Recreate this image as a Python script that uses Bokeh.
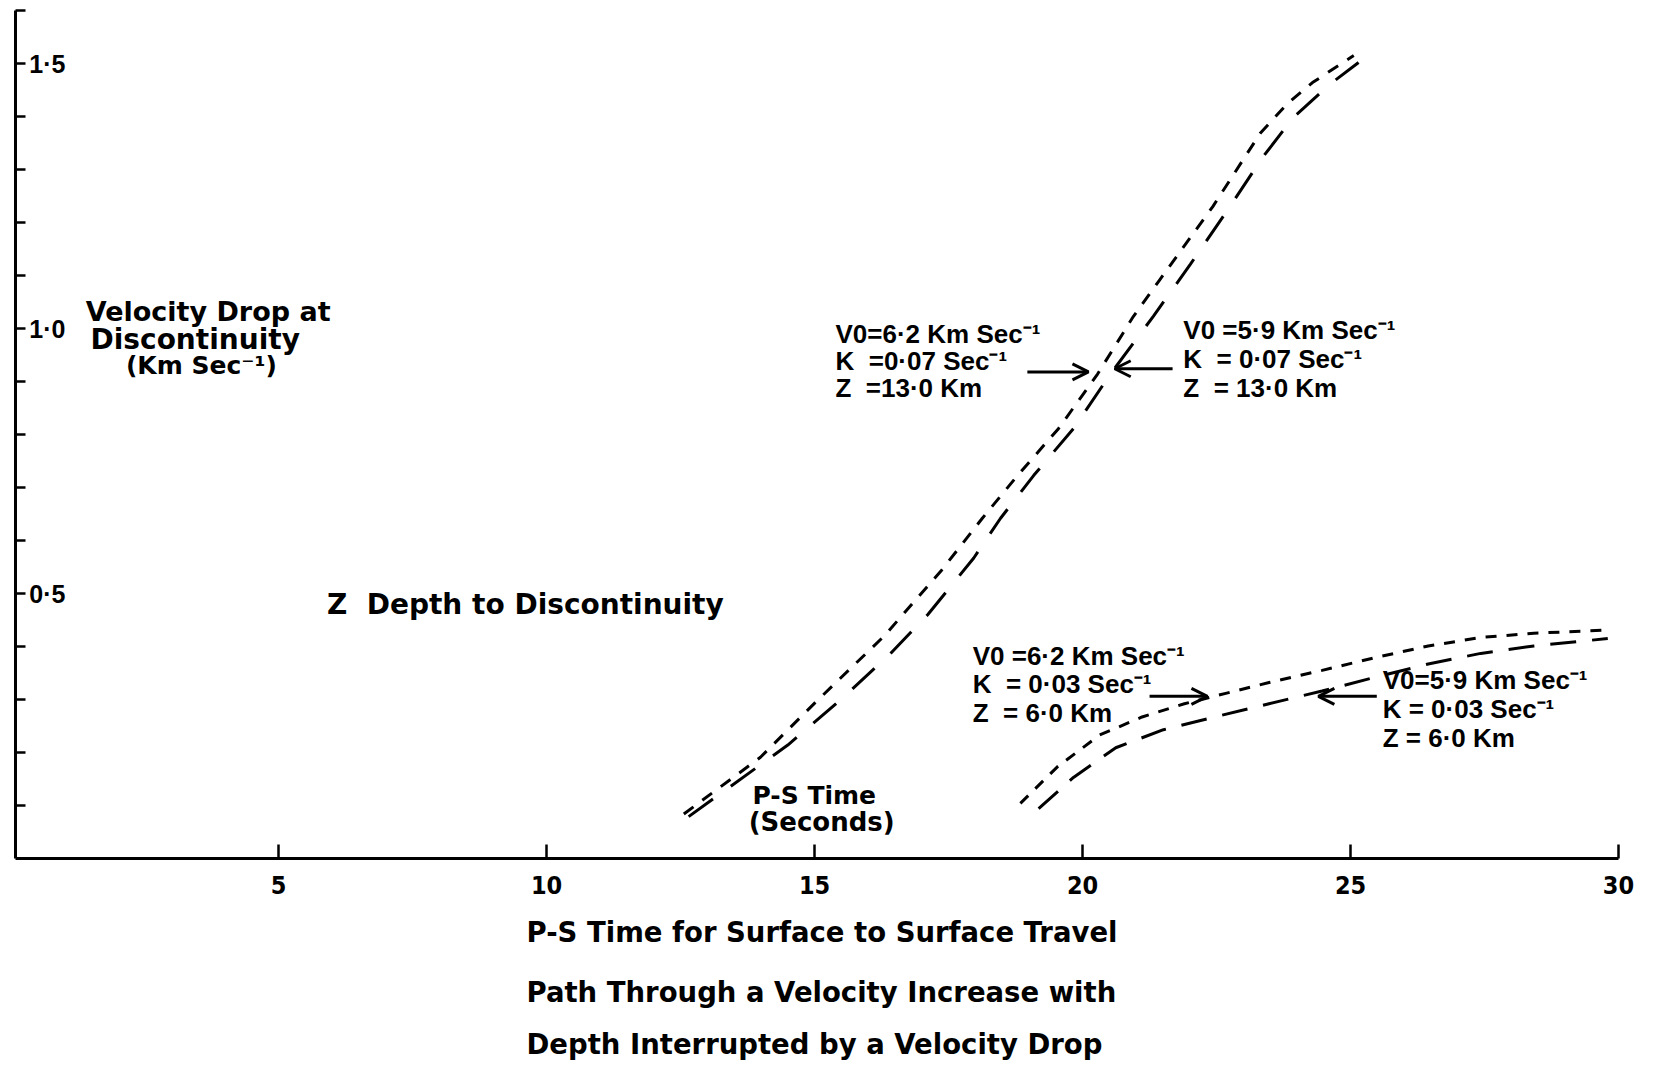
from bokeh.plotting import figure
from bokeh.models import Range1d, FixedTicker, Label, Arrow, OpenHead, Title
from bokeh.embed import file_html
from bokeh.resources import INLINE

NB = "\u00a0"

# ---------------- data ----------------
x_ticks = [5, 10, 15, 20, 25, 30]
x_tick_labels = ["5", "10", "15", "20", "25", "30"]
y_ticks = [0.5, 1.0, 1.5]
y_tick_labels = ["0·5", "1·0", "1·5"]
y_minor_ticks = [0.1, 0.2, 0.3, 0.4, 0.6, 0.7, 0.8, 0.9, 1.1, 1.2, 1.3, 1.4, 1.6]

# K = 0.07, Z = 13 km, V0 = 6.2 km/s
a_x = [12.56, 13.99, 15.02, 16.30, 17.37, 18.13, 18.79, 19.55, 20.28, 20.95, 21.42, 22.43, 23.32, 23.82, 24.29, 25.06]
a_y = [0.084, 0.191, 0.295, 0.420, 0.544, 0.642, 0.723, 0.811, 0.914, 1.023, 1.089, 1.230, 1.369, 1.424, 1.464, 1.515]
# K = 0.07, Z = 13 km, V0 = 5.9 km/s
b_x = [12.65, 14.50, 15.49, 16.38, 17.11, 17.97, 18.47, 19.09, 19.83, 20.52, 21.32, 22.01, 22.71, 23.36, 23.94, 24.63, 25.15]
b_y = [0.079, 0.214, 0.300, 0.383, 0.460, 0.567, 0.642, 0.723, 0.811, 0.914, 1.023, 1.121, 1.224, 1.323, 1.399, 1.462, 1.502]
# K = 0.03, Z = 6 km, V0 = 6.2 km/s
c_x = [18.84, 19.53, 20.32, 21.11, 21.90, 22.69, 23.48, 24.47, 25.46, 26.45, 27.43, 28.42, 29.80]
c_y = [0.104, 0.173, 0.233, 0.267, 0.292, 0.312, 0.332, 0.355, 0.379, 0.401, 0.417, 0.425, 0.431]
# K = 0.03, Z = 6 km, V0 = 5.9 km/s
d_x = [19.18, 19.83, 20.62, 21.51, 22.50, 23.48, 24.47, 25.46, 26.45, 27.43, 28.42, 29.80]
d_y = [0.094, 0.153, 0.209, 0.243, 0.268, 0.292, 0.316, 0.342, 0.367, 0.387, 0.401, 0.415]

y_title_lines = ["Velocity Drop at", "Discontinuity", "(Km Sec⁻¹)"]
x_title_lines = ["P-S Time for Surface to Surface Travel",
                 "Path Through a Velocity Increase with",
                 "Depth Interrupted by a Velocity Drop"]
ann_upper_left = ["V0=6·2 Km Sec⁻¹", "K" + NB * 2 + "=0·07 Sec⁻¹", "Z" + NB * 2 + "=13·0 Km"]
ann_upper_right = ["V0 =5·9 Km Sec⁻¹", "K" + NB * 2 + "= 0·07 Sec⁻¹", "Z" + NB * 2 + "= 13·0 Km"]
ann_lower_left = ["V0 =6·2 Km Sec⁻¹", "K" + NB * 2 + "= 0·03 Sec⁻¹", "Z" + NB * 2 + "= 6·0 Km"]
ann_lower_right = ["V0=5·9 Km Sec⁻¹", "K = 0·03 Sec⁻¹", "Z = 6·0 Km"]

# ---------------- figure ----------------
p = figure(width=1655, height=1069,
           x_range=Range1d(0.09, 30), y_range=Range1d(0, 1.6),
           output_backend="svg", toolbar_location=None,
           min_border_left=15, min_border_right=37,
           min_border_top=10, min_border_bottom=207)
p.xgrid.visible = False
p.ygrid.visible = False
p.outline_line_color = None
p.background_fill_color = "white"
p.border_fill_color = "white"

xa = p.xaxis[0]
xa.ticker = FixedTicker(ticks=x_ticks)
xa.major_label_overrides = {t: l for t, l in zip(x_ticks, x_tick_labels)}
xa.axis_line_width = 3
xa.axis_line_color = "black"
xa.major_tick_in = 14
xa.major_tick_out = 0
xa.minor_tick_in = 0
xa.minor_tick_out = 0
xa.major_tick_line_width = 2.5
xa.major_tick_line_color = "black"
xa.major_label_standoff = 17
xa.major_label_text_font = "DejaVu Sans Condensed"
xa.major_label_text_font_style = "bold"
xa.major_label_text_font_size = "25px"
xa.major_label_text_color = "black"

ya = p.yaxis[0]
ya.ticker = FixedTicker(ticks=y_ticks, minor_ticks=y_minor_ticks)
ya.major_label_overrides = {t: l for t, l in zip(y_ticks, y_tick_labels)}
ya.axis_line_width = 3
ya.axis_line_color = "black"
ya.major_tick_in = 10
ya.major_tick_out = 0
ya.minor_tick_in = 10
ya.minor_tick_out = 0
ya.major_tick_line_width = 2.5
ya.minor_tick_line_width = 2.5
ya.major_tick_line_color = "black"
ya.minor_tick_line_color = "black"
ya.major_label_standoff = -50
ya.major_label_text_font = "Liberation Sans"
ya.major_label_text_font_style = "bold"
ya.major_label_text_font_size = "25px"
ya.major_label_text_color = "black"

# ---------------- x title (three lines below the axis) ----------------
for t, so in zip(x_title_lines, [35, 16, 20]):
    p.add_layout(Title(text=t, align="left", offset=511, standoff=so,
                       text_font="DejaVu Sans", text_font_style="bold",
                       text_font_size="27.5px", text_color="black"), "below")

# ---------------- curves ----------------
p.line(a_x, a_y, line_color="black", line_width=3, line_dash="12 11")
p.line(b_x, b_y, line_color="black", line_width=3, line_dash="30 22")
p.line(c_x, c_y, line_color="black", line_width=3, line_dash="11 10")
p.line(d_x, d_y, line_color="black", line_width=3, line_dash="26 16")

# ---------------- arrows ----------------
def arrow(x0, x1, y):
    p.add_layout(Arrow(end=OpenHead(size=16, line_width=3, line_color="black"),
                       x_start=x0, y_start=y, x_end=x1, y_end=y,
                       line_width=3, line_color="black"))

arrow(18.97, 20.11, 0.918)
arrow(21.68, 20.60, 0.924)
arrow(21.25, 22.33, 0.306)
arrow(25.49, 24.40, 0.306)

# ---------------- texts ----------------
def label(x, y, txt, size, font="DejaVu Sans"):
    p.add_layout(Label(x=x, y=y, text=txt, text_font=font, text_font_style="bold",
                       text_font_size=size, text_color="black",
                       text_baseline="middle", text_align="left"))

label(1.40, 1.032, y_title_lines[0], "27px")
label(1.49, 0.980, y_title_lines[1], "28px")
label(2.15, 0.931, y_title_lines[2], "25px")

label(5.90, 0.479, "Z" + NB * 2 + "Depth to Discontinuity", "28px")
label(13.84, 0.118, "P-S Time", "25px")
label(13.77, 0.068, "(Seconds)", "26px")

for ly, t in zip([0.989, 0.939, 0.888], ann_upper_left):
    label(15.39, ly, t, "26px", "Liberation Sans")
for ly, t in zip([0.997, 0.942, 0.888], ann_upper_right):
    label(21.88, ly, t, "26px", "Liberation Sans")
for ly, t in zip([0.383, 0.329, 0.274], ann_lower_left):
    label(17.95, ly, t, "26px", "Liberation Sans")
for ly, t in zip([0.336, 0.283, 0.227], ann_lower_right):
    label(25.60, ly, t, "26px", "Liberation Sans")

open("out.html", "w").write(file_html(p, INLINE))
